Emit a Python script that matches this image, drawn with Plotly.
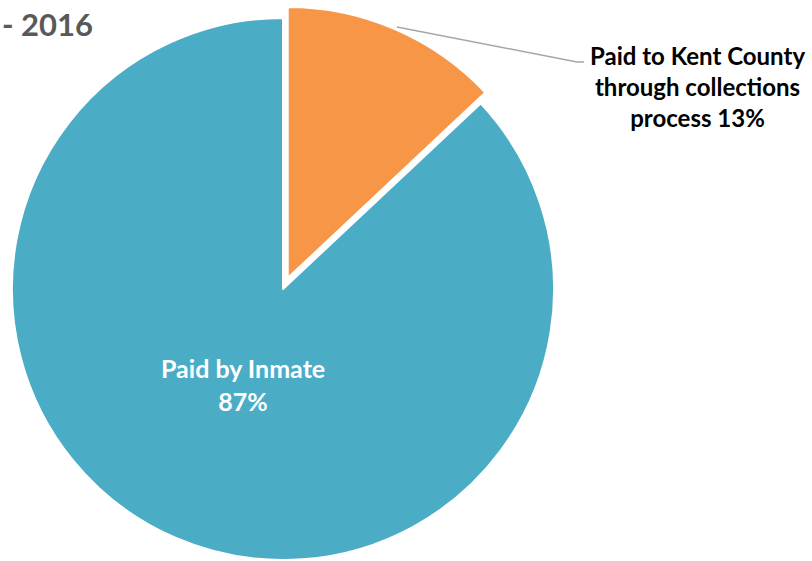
import plotly.graph_objects as go

labels = ["Paid to Kent County through collections process", "Paid by Inmate"]
values = [13, 87]
colors = ["#F79646", "#4BACC6"]
pulls = [0.044, 0]
title_text = "- 2016"

W, FH = 812, 578  # figure is a bit taller than the window; bottom is cropped like the reference


def px(x):
    return x / W


def py(y):
    return 1 - y / FH


fig = go.Figure()
fig.add_trace(go.Pie(
    labels=labels,
    values=values,
    sort=False,
    direction="clockwise",
    rotation=0,
    pull=pulls,
    marker=dict(colors=colors, line=dict(color="white", width=2)),
    textinfo="none",
    domain=dict(x=[0, 566 / W], y=[0, 1]),
    showlegend=False,
    hoverinfo="label+percent",
))

fig.add_annotation(
    x=px(243), y=py(384), xref="paper", yref="paper",
    text=f"Paid by Inmate<br>{values[1]}%",
    showarrow=False, xanchor="center", yanchor="middle",
    font=dict(family="Lato", size=25, color="white", weight="bold"),
    align="center",
)

fig.add_annotation(
    x=px(697), y=py(87), xref="paper", yref="paper",
    text=f"Paid to Kent County<br>through collections<br>process {values[0]}%",
    showarrow=False, xanchor="center", yanchor="middle",
    font=dict(family="Lato", size=24, color="black", weight="bold"),
    align="center",
)
fig.add_shape(type="line", xref="paper", yref="paper",
              x0=px(397), y0=py(27), x1=px(577), y1=py(62),
              line=dict(color="#A6A6A6", width=1.5))
fig.add_shape(type="line", xref="paper", yref="paper",
              x0=px(577), y0=py(62), x1=px(584), y1=py(62),
              line=dict(color="#A6A6A6", width=1.5))

fig.add_annotation(
    x=px(0), y=py(24), xref="paper", yref="paper",
    text=title_text, showarrow=False, xanchor="left", yanchor="middle",
    font=dict(family="Lato", size=31, color="#595959", weight="bold"),
)

fig.update_layout(
    width=W, height=FH,
    margin=dict(l=0, r=0, t=0, b=0),
    paper_bgcolor="white", plot_bgcolor="white",
)
fig.write_html("out.html", config={"displayModeBar": False},
               post_script="document.body.style.margin='0';")
